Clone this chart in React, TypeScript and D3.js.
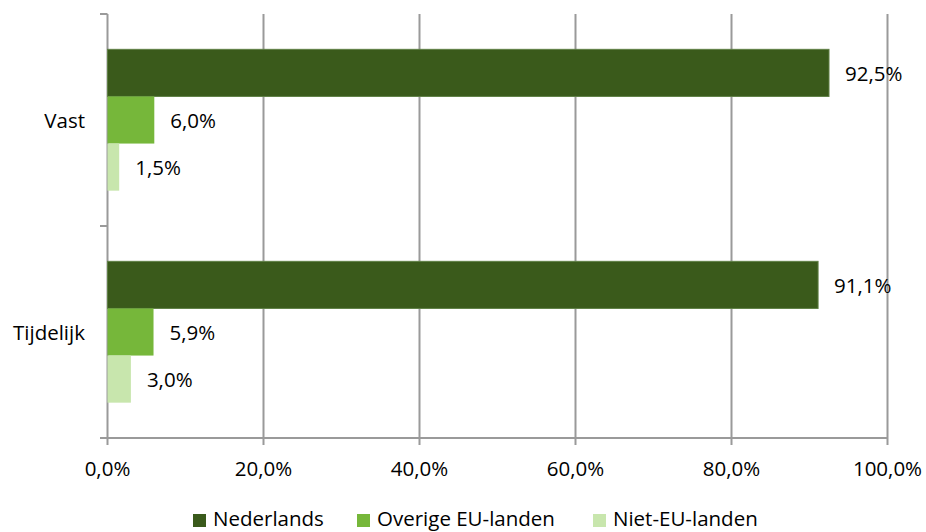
import React from "react";
import * as d3 from "d3";

const categories = ["Vast", "Tijdelijk"];
const seriesNames = ["Nederlands", "Overige EU-landen", "Niet-EU-landen"];
const nederlands = [92.5, 91.1];
const overigeEU = [6.0, 5.9];
const nietEU = [1.5, 3.0];
const xTicks = [0, 20, 40, 60, 80, 100];
const colors = ["#3a5a1b", "#76b73a", "#c8e6ad"];

const fmt = (v: number) => v.toFixed(1).replace(".", ",") + "%";

export default function App() {
  const W = 926, H = 532;
  const left = 107.5, right = 887.5, top = 14, bottom = 438;
  const font = "'Open Sans', Carlito, Calibri, sans-serif";
  const fs = 20.5;
  const x = d3.scaleLinear().domain([0, 100]).range([left, right]);
  const yBand = d3.scaleBand().domain(categories).range([top, bottom]).paddingInner(0).paddingOuter(0);
  const inner = d3.scaleBand().domain(seriesNames).range([0, yBand.bandwidth()]).paddingInner(0).paddingOuter(0.75);
  const series = [nederlands, overigeEU, nietEU];
  const grid = "#9a9a9a";
  const legendX = [193, 357, 593];

  return (
    <svg width={W} height={H} style={{ position: "absolute", left: 0, top: 0 }} fontFamily={font}>
      {xTicks.map((t) => (
        <g key={t}>
          <line x1={x(t)} x2={x(t)} y1={top} y2={bottom + 7} stroke={grid} strokeWidth={2} />
          <text x={x(t)} y={476} textAnchor="middle" fontSize={fs} fill="#000">{fmt(t)}</text>
        </g>
      ))}
      <line x1={100} x2={right} y1={bottom} y2={bottom} stroke={grid} strokeWidth={2} />
      {[top, (top + bottom) / 2].map((yy, i) => (
        <line key={i} x1={100} x2={left} y1={yy} y2={yy} stroke={grid} strokeWidth={2} />
      ))}
      {categories.map((c, ci) => (
        <g key={c}>
          <text x={85} y={(yBand(c) as number) + yBand.bandwidth() / 2} textAnchor="end" dominantBaseline="central" fontSize={fs} fill="#000">{c}</text>
          {series.map((s, si) => {
            const y0 = (yBand(c) as number) + (inner(seriesNames[si]) as number);
            const h = inner.bandwidth();
            return (
              <g key={si}>
                <rect x={x(0)} y={y0} width={x(s[ci]) - x(0)} height={h} fill={colors[si]} stroke={si === 0 ? "#5f7f45" : "none"} strokeWidth={1} />
                <text x={x(s[ci]) + 16} y={y0 + h / 2} dominantBaseline="central" fontSize={fs} fill="#000">{fmt(s[ci])}</text>
              </g>
            );
          })}
        </g>
      ))}
      {seriesNames.map((n, i) => (
        <g key={n}>
          <rect x={legendX[i]} y={514} width={13} height={13} fill={colors[i]} />
          <text x={legendX[i] + 20} y={526} fontSize={fs} fill="#000">{n}</text>
        </g>
      ))}
    </svg>
  );
}
